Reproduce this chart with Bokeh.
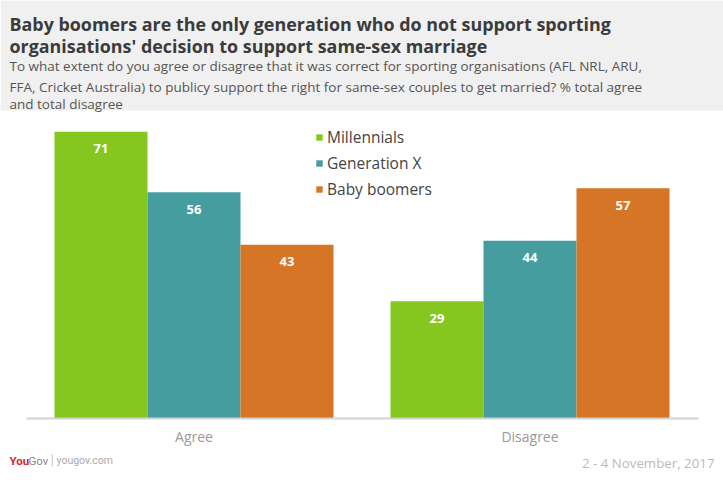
from bokeh.plotting import figure
from bokeh.models import ColumnDataSource, Range1d, FactorRange, Label, Legend, LegendItem, BoxAnnotation
from bokeh.transform import dodge
from bokeh.layouts import column
from bokeh.core.properties import value
from bokeh.embed import file_html
from bokeh.resources import INLINE

# ---- data ----
categories = ["Agree", "Disagree"]
series_names = ["Millennials", "Generation X", "Baby boomers"]
millennials = [71, 29]
generation_x = [56, 44]
baby_boomers = [43, 57]
series_colors = ["#85c71f", "#469da0", "#d67526"]

title_lines = [
    "Baby boomers are the only generation who do not support sporting",
    "organisations' decision to support same-sex marriage",
]
subtitle_lines = [
    "To what extent do you agree or disagree that it was correct for sporting organisations (AFL NRL, ARU,",
    "FFA, Cricket Australia) to publicy support the right for same-sex couples to get married? % total agree",
    "and total disagree",
]
date_text = "2 - 4 November, 2017"

FONT = "Open Sans"
W = 723


def blank(height, y_top, y_bottom, fill):
    f = figure(width=W, height=height, x_range=Range1d(0, W), y_range=Range1d(y_bottom, y_top),
               x_axis_type=None, y_axis_type=None, toolbar_location=None, output_backend="svg",
               min_border=0, min_border_left=0, min_border_right=0,
               min_border_top=0, min_border_bottom=0)
    f.background_fill_color = fill
    f.border_fill_color = fill
    f.outline_line_color = None
    f.grid.visible = False
    return f


# ---- header (page y 0..114, grey band 0..110) ----
hdr = blank(114, 0, 114, "white")
hdr.add_layout(BoxAnnotation(left=0, right=W, top=0, bottom=110, fill_color="#f0f0f0",
                             fill_alpha=1, line_color=None, level="underlay"))
for yb, t in zip([23, 45], title_lines):
    hdr.add_layout(Label(x=9, y=yb, text=t, text_font=FONT, text_font_size="17.9px",
                         text_font_style="bold", text_color="#3b3b3b", text_baseline="alphabetic"))
for yb, t in zip([65.5, 86, 103.5], subtitle_lines):
    hdr.add_layout(Label(x=9, y=yb, text=t, text_font=FONT, text_font_size="13.5px",
                         text_color="#555555", text_baseline="alphabetic"))

# ---- chart (page y 114..448) ----
px_per_unit = 4.04
p = figure(width=W, height=334,
           x_range=FactorRange(*categories, range_padding=25.5 / 336, range_padding_units="absolute"),
           y_range=Range1d(0, 300 / px_per_unit), toolbar_location=None,
           output_backend="svg", min_border=0, min_border_top=4, min_border_bottom=30,
           min_border_left=0, min_border_right=0)
p.outline_line_color = None
p.grid.visible = False
p.yaxis.visible = False
p.xaxis.bounds = (0, 2)
p.xaxis.axis_line_color = "#d2d2d2"
p.xaxis.axis_line_width = 2
p.xaxis.major_tick_line_color = None
p.xaxis.minor_tick_line_color = None
p.xaxis.major_label_text_font = FONT
p.xaxis.major_label_text_font_size = "14px"
p.xaxis.major_label_text_color = "#9a9a9a"
p.xaxis.major_label_standoff = 2

src = ColumnDataSource(dict(cat=categories, m=millennials, g=generation_x, b=baby_boomers,
                            ml=[str(v) for v in millennials],
                            gl=[str(v) for v in generation_x],
                            bl=[str(v) for v in baby_boomers]))
bw = 93 / 336
items = []
for off, col, lab, name, color in zip([-bw, 0, bw], ["m", "g", "b"], ["ml", "gl", "bl"],
                                      series_names, series_colors):
    r = p.vbar(x=dodge("cat", off, range=p.x_range), top=col, width=bw, source=src,
               fill_color=color, line_color=None)
    p.text(x=dodge("cat", off, range=p.x_range), y=col, text=lab, source=src,
           text_font=value(FONT), text_font_size="13px", text_font_style="bold",
           text_color="white", text_align="center", text_baseline="middle", y_offset=17)
    items.append(LegendItem(label=name, renderers=[r]))

legend = Legend(items=items, location=(315, 218), glyph_width=8, glyph_height=8,
                label_height=19, spacing=4, padding=0, margin=0, label_standoff=4,
                label_text_font=FONT, label_text_font_size="15.5px", label_text_color="#444444",
                border_line_color=None, background_fill_alpha=0)
p.add_layout(legend)

# ---- footer (page y 448..474) ----
ftr = blank(26, 448, 474, "white")
LOGO = "Roboto"
ftr.add_layout(Label(x=9, y=460, text="You", text_font=LOGO, text_font_size="11.5px",
                     text_font_style="bold", text_color="#d7262d", text_baseline="middle"))
ftr.add_layout(Label(x=28, y=460, text="Gov", text_font=LOGO, text_font_size="11.5px",
                     text_color="#8a8a8a", text_baseline="middle"))
ftr.add_layout(Label(x=50, y=459, text="|", text_font=LOGO, text_font_size="14px",
                     text_color="#cccccc", text_baseline="middle"))
ftr.add_layout(Label(x=56, y=460, text="yougov.com", text_font=LOGO, text_font_size="10.5px",
                     text_color="#aaaaaa", text_baseline="middle"))
ftr.add_layout(Label(x=714, y=462, text=date_text, text_font=FONT, text_font_size="13.3px",
                     text_color="#bbbbbb", text_align="right", text_baseline="middle"))

layout = column(hdr, p, ftr, spacing=0)
open("out.html", "w").write(file_html(layout, INLINE))
